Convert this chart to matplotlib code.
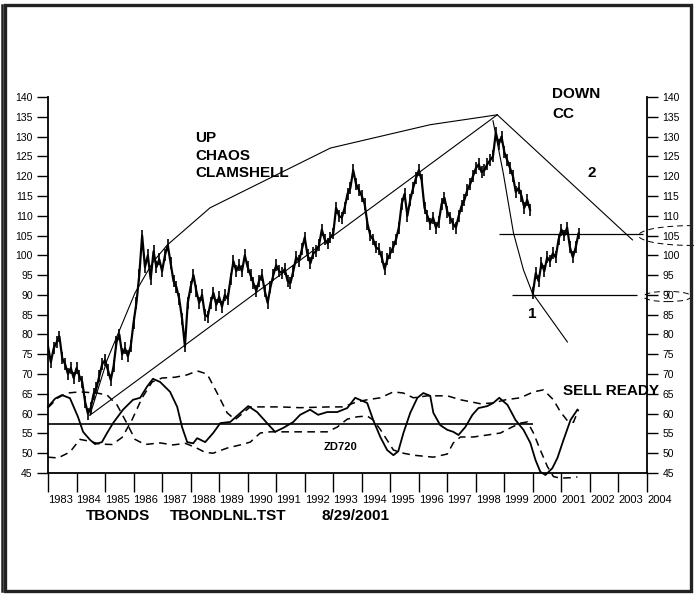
import numpy as np
import matplotlib.pyplot as plt
from matplotlib.patches import Ellipse, Rectangle
from matplotlib.lines import Line2D

plt.rcParams['font.family'] = ['Liberation Sans', 'DejaVu Sans']

# T-bond price, one value every 0.1 year
price_start = 1983.0
price_a = [77, 73, 76.5, 78, 79.5, 74, 72.5, 70, 71.5, 69,
           71.5, 69.5, 68, 63, 60, 61.5, 65, 66.5, 69.5, 72.5,
           73.5, 71, 68.5, 72, 78, 80, 75, 76.5, 74.5, 77,
           83, 88, 95, 105, 97, 100, 94, 101, 97, 99,
           96, 100, 102.5, 98, 93.5, 92, 89, 84, 77, 88,
           92, 95, 91, 88, 90, 85, 84.5, 88, 90.5, 87.5,
           89.5, 87, 90, 89, 94, 98.5, 96, 97.5, 96, 100,
           97, 95, 93, 91, 93.5, 95, 91, 88, 92, 95,
           97.5, 96, 95.5, 96.5, 93.5, 93, 96, 99.5, 98.5, 101.5,
           104.5, 100, 98, 100.5, 101, 102.5, 106.5, 104, 103, 104.5,
           105.5, 112, 110, 109.5, 112, 115.5, 117, 121.5, 118, 116.5,
           115, 113, 108, 105, 104, 102, 101.5, 99.5, 96.5, 99,
           100.5, 102, 104, 107, 113, 115.5, 110, 114, 117, 119.5,
           121.5, 119, 112, 110, 108, 109.5, 107, 108.5, 113, 114.5,
           111, 109.5, 108, 107, 110, 112.5, 114, 116.5, 118, 120,
           122, 123, 121, 121.5, 123, 124, 125, 131, 128, 130,
           126, 124, 122, 120, 116, 117, 115, 112, 114, 111.5]
price_b_start = 2000.0
price_b = [90.5, 95.5, 93.5, 98, 96, 99.5, 98.5, 100.5, 99.5, 104,
           106.5, 105, 107, 102, 99.5, 102, 105.5]

# ZD720 oscillator and its two bands
osc_years = [1983.0, 1983.25, 1983.49, 1983.77, 1984.05, 1984.23, 1984.47, 1984.65,
             1984.89, 1985.07, 1985.28, 1985.63, 1985.98, 1986.23, 1986.47, 1986.68,
             1986.93, 1987.28, 1987.53, 1987.70, 1987.88, 1988.09, 1988.23, 1988.51,
             1988.79, 1989.04, 1989.39, 1989.67, 1990.02, 1990.33, 1990.68, 1990.96,
             1991.25, 1991.60, 1991.84, 1992.19, 1992.47, 1992.79, 1993.14, 1993.49,
             1993.77, 1994.19, 1994.40, 1994.65, 1994.89, 1995.11, 1995.28, 1995.46,
             1995.70, 1995.95, 1996.16, 1996.40, 1996.51, 1996.75, 1997.0, 1997.21,
             1997.39, 1997.63, 1997.88, 1998.09, 1998.40, 1998.61, 1998.82, 1999.11,
             1999.39, 1999.67, 1999.91, 2000.09, 2000.26, 2000.44, 2000.68, 2000.86,
             2001.07, 2001.32, 2001.56]
osc_vals = [61.7, 63.8, 64.7, 63.9, 59.2, 55.4, 53.4, 52.3,
            52.8, 55.1, 57.6, 61, 63.5, 64, 66.8, 68.8,
            68, 65.5, 61.7, 56.6, 52.8, 52.5, 53.8, 52.8,
            55.1, 57.6, 57.9, 59.7, 61.9, 60.4, 57.6, 55.4,
            56.4, 57.9, 59.7, 61, 59.7, 60.4, 60.4, 61.4,
            64, 62.7, 58.4, 54.1, 50.8, 49.5, 50.5, 55.1,
            60.2, 64, 65.2, 64.5, 60.2, 57.1, 55.9, 55.4,
            54.6, 56.6, 59.7, 61.4, 61.9, 62.7, 64, 62.2,
            58.4, 55.9, 52.6, 48.3, 45.3, 44.5, 46.2, 48.8,
            53.3, 58.4, 61]

band1_years = [1983.0, 1983.35, 1983.77, 1984.12, 1984.47, 1984.82, 1985.25, 1985.60,
               1985.95, 1986.30, 1986.65, 1987.0, 1987.46, 1987.88, 1988.23, 1988.58,
               1988.93, 1989.28, 1989.56, 1989.81, 1990.09, 1991.14, 1991.84, 1992.89,
               1993.35, 1993.84, 1994.19, 1994.65, 1995.11, 1995.46, 1995.81, 1996.30,
               1997.0, 1997.46, 1998.16, 1998.61, 1999.04, 1999.56, 2000.02, 2000.37,
               2000.72, 2000.96, 2001.21, 2001.42, 2001.60]
band1_vals = [49, 48.8, 50.3, 53.5, 53, 52.3, 52.2, 54,
              58.5, 64, 68, 69, 69.2, 69.8, 70.8, 70,
              65.2, 60.2, 58.5, 60, 61.7, 61.7, 61.5, 61.7,
              61.7, 63, 63.5, 64, 65.5, 65.2, 64, 64.5,
              64.5, 63.5, 62.5, 62.7, 63.5, 64, 65.5, 66,
              63.5, 60.5, 58.2, 57.8, 61]

band2_years = [1983.0, 1983.35, 1983.67, 1984.12, 1984.72, 1985.07, 1985.42, 1985.77,
               1986.05, 1986.40, 1986.93, 1987.39, 1987.81, 1988.16, 1988.51, 1988.79,
               1989.28, 1989.74, 1990.09, 1990.44, 1990.79, 1991.84, 1992.79, 1993.14,
               1993.49, 1993.84, 1994.19, 1994.40, 1994.65, 1995.11, 1995.46, 1995.81,
               1996.51, 1997.0, 1997.21, 1997.46, 1997.91, 1998.40, 1998.86, 1999.21,
               1999.56, 1999.81, 2000.02, 2000.26, 2000.51, 2000.72, 2000.96, 2001.32,
               2001.56]
band2_vals = [61.5, 64, 65.2, 65.5, 65.2, 64.7, 62.2, 57.5,
              53.5, 52.2, 52.6, 52.1, 52.5, 51.5, 50.2, 50,
              51.3, 52.1, 52.8, 55.1, 55.4, 55.4, 55.4, 56.6,
              58.6, 59.2, 59.4, 58.4, 56, 50.8, 50, 49.5,
              49, 49.8, 52.6, 54.1, 54.1, 54.6, 55.1, 56.4,
              57.6, 57.9, 55.1, 50.8, 46.6, 44.1, 43.7, 43.8,
              44]

zd_level = 57.4
zd_span = [1983.0, 2000.0]

# clamshell lines
up_curve_years = [1984.47, 1985.07, 1986.05, 1986.68, 1987.18, 1988.68, 1992.9, 1996.4, 1998.75]
up_curve_vals = [59.6, 73.5, 90.5, 98.3, 102.6, 112, 127.1, 133, 135.5]
up_line_years = [1984.47, 1998.75]
up_line_vals = [59.6, 135.5]
down_line_years = [1998.75, 2003.49]
down_line_vals = [135.5, 103.9]
down_curve_years = [1998.6, 1998.96, 1999.32, 1999.67, 1999.98, 2001.21]
down_curve_vals = [134, 120.8, 105.6, 96.3, 90.5, 78.1]
hline_105 = (105.3, 1998.8, 2003.85)
hline_90 = (90.0, 1999.28, 2003.65)

year_ticks = list(range(1983, 2005))
price_ticks = list(range(45, 141, 5))

fig = plt.figure(figsize=(6.94, 5.94), dpi=100)
W, H = 694, 594
ax = fig.add_axes([48 / W, 121 / H, 599 / W, 376 / H])
ax.set_xlim(1983, 2004)
ax.set_ylim(45, 140)

# price, drawn as a jagged line with a small bar at each point
xa = price_start + 0.1 * np.arange(len(price_a))
xb = price_b_start + 0.1 * np.arange(len(price_b))
for xs, ys in [(xa, price_a), (xb, price_b)]:
    ys = np.array(ys)
    ax.plot(xs, ys, color='black', lw=1.6, zorder=3)
    ax.vlines(xs, ys - 1.5, ys + 1.5, color='black', lw=1.2, zorder=3)

thin = dict(color='black', lw=0.8, zorder=2)
ax.plot(up_curve_years, up_curve_vals, **thin)
ax.plot(up_line_years, up_line_vals, **thin)
ax.plot(down_line_years, down_line_vals, **thin)
ax.plot(down_curve_years, down_curve_vals, **thin)
ax.hlines(hline_105[0], hline_105[1], hline_105[2], color='black', lw=0.9)
ax.hlines(hline_90[0], hline_90[1], hline_90[2], color='black', lw=0.9)

# oscillator
ax.plot(osc_years, osc_vals, color='black', lw=1.3, clip_on=False)
dash = dict(color='black', lw=1.1, ls=(0, (5, 3.5)), clip_on=False)
ax.plot(band1_years, band1_vals, **dash)
ax.plot(band2_years, band2_vals, **dash)
ax.hlines(zd_level, zd_span[0], zd_span[1], color='black', lw=1.2)

# dashed ellipses round the right labels
ax.add_patch(Ellipse((2005.53, 105), 3.65, 5.0, fill=False, ec='black', lw=0.7,
                     ls=(0, (6, 4)), clip_on=False))
ax.add_patch(Ellipse((2004.72, 89.6), 1.68, 2.6, fill=False, ec='black', lw=0.7,
                     ls=(0, (6, 4)), clip_on=False))

# axes styling
for s in ['left', 'right', 'bottom']:
    ax.spines[s].set_linewidth(1.3)
ax.spines['top'].set_visible(False)
ax.set_yticks(price_ticks)
ax.set_yticklabels([str(v) for v in price_ticks])
ax.tick_params(axis='y', left=True, right=True, labelleft=True, labelright=True,
               direction='out', length=8, width=1, pad=3, labelsize=7.5)
ax.set_xticks(year_ticks)
ax.set_xticklabels([str(y) for y in year_ticks], ha='left')
ax.tick_params(axis='x', direction='out', length=13.5, width=1, pad=2, labelsize=8)
ax.set_facecolor('none')

bold = dict(fontsize=11, fontweight='bold', color='black')
ax.text(1988.16, 128.6, 'UP', **bold)
ax.text(1988.16, 124.2, 'CHAOS', **bold)
ax.text(1988.16, 119.8, 'CLAMSHELL', **bold)
ax.text(2000.68, 139.75, 'DOWN', clip_on=False, **bold)
ax.text(2000.68, 134.7, 'CC', **bold)
ax.text(2001.91, 119.8, '2', **bold)
ax.text(1999.84, 84.2, '1', **bold)
ax.text(2001.04, 64.7, 'SELL READY', clip_on=False, **bold)
ax.text(1992.65, 50.8, 'ZD720', fontsize=8, fontweight='bold')

fig.text(86 / W, 1 - 520 / H, 'TBONDS', **bold)
fig.text(170 / W, 1 - 520 / H, 'TBONDLNL.TST', **bold)
fig.text(322 / W, 1 - 520 / H, '8/29/2001', **bold)

# page frame
fig.patches.append(Rectangle((5 / W, 3 / H), 686 / W, 586 / H, transform=fig.transFigure,
                             fill=False, ec='#222222', lw=2.4))
fig.lines.append(Line2D([1.8 / W, 1.8 / W], [3 / H, 589 / H], transform=fig.transFigure,
                        color='#222222', lw=1.8))

fig.savefig('out.png', dpi=100)
